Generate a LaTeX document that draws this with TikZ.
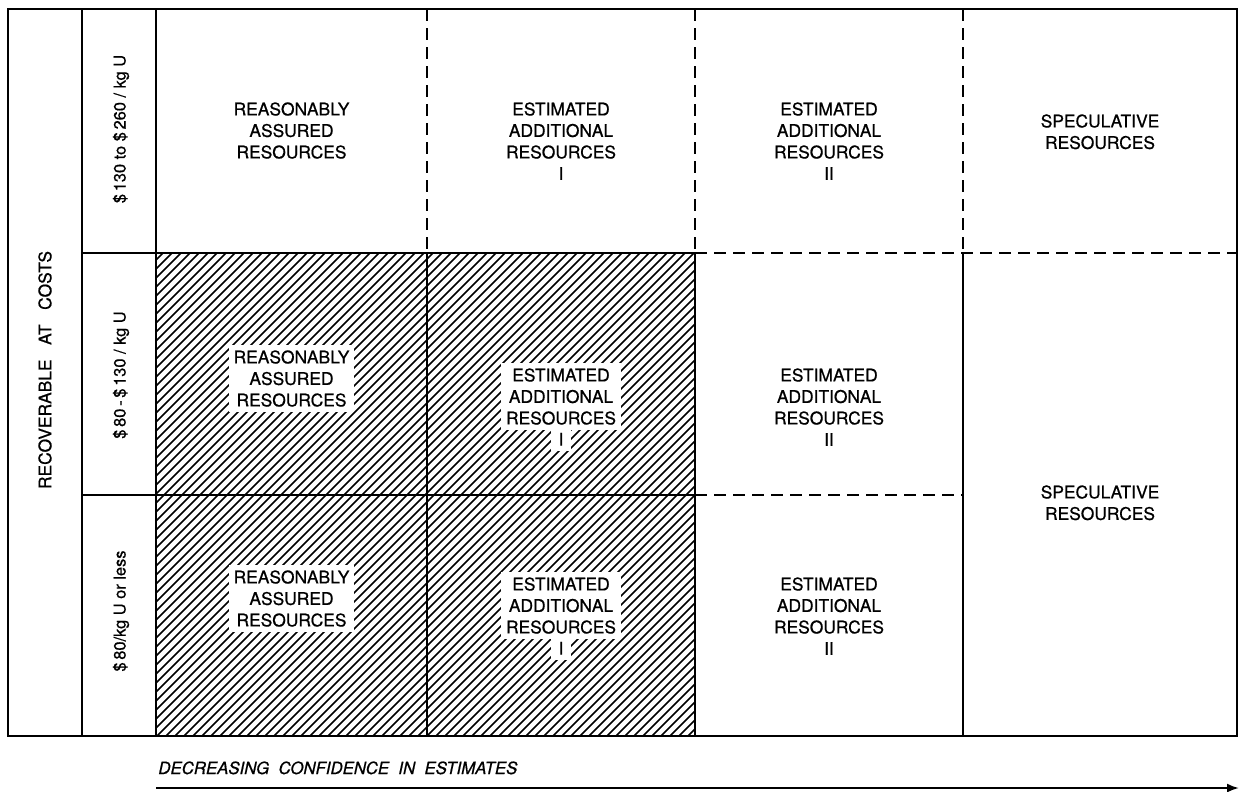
\documentclass[tikz,border=0pt]{standalone}
\usepackage{fontspec}
\setmainfont{TeX Gyre Heros}[FakeBold=0.7]
\usetikzlibrary{arrows.meta}
\begin{document}
\begin{tikzpicture}[x=0.5bp,y=-0.5bp,
  frame/.style={line width=1bp},
  dashline/.style={line width=0.9bp, dash pattern=on 6bp off 3.5bp},
  hatchline/.style={line width=0.8bp},
  lbl/.style={align=center, inner sep=0pt, anchor=north,
    font=\fontsize{8.7bp}{10.75bp}\selectfont},
  onhatch/.style={lbl, fill=white, inner sep=2.5bp},
  sidelbl/.style={rotate=90, inner sep=0pt,
    font=\fontsize{8.2bp}{10bp}\selectfont},
  axislbl/.style={inner sep=0pt, anchor=base west,
    font=\fontsize{8.4bp}{10bp}\selectfont\itshape}]
\useasboundingbox (0,0) rectangle (1244,791);
\fill[white] (0,0) rectangle (1244,791);

% hatched block: first two classes at the two lower cost levels
\begin{scope}
  \clip (156,253) rectangle (695,736);
  \foreach \s in {-500,-491,...,700}
    \draw[hatchline] (\s,736) -- ++(483,-483);
\end{scope}

% outer frame and solid rules
\draw[frame] (8,9) rectangle (1237,736);
\draw[frame] (82,9) -- (82,736);
\draw[frame] (156,9) -- (156,736);
\draw[frame] (82,253) -- (695,253);
\draw[frame] (82,495) -- (695,495);
\draw[frame] (427,253) -- (427,736);
\draw[frame] (695,253) -- (695,736);
\draw[frame] (963,253) -- (963,736);

% dashed boundaries
\draw[dashline] (427,9) -- (427,253);
\draw[dashline] (695,9) -- (695,253);
\draw[dashline] (963,9) -- (963,253);
\draw[dashline] (695,253) -- (1237,253);
\draw[dashline] (695,495) -- (963,495);

% left-hand labels
\node[sidelbl, font=\fontsize{8.7bp}{10bp}\selectfont] (recov) at (45,370)
  {RECOVERABLE\ \ \ AT\ \ \ COSTS};
\node[sidelbl] (cost3) at (121,129) {\$\,130 to \$\,260 / kg U};
\node[sidelbl] (cost2) at (121,375) {\$\,80\,-\,\$\,130 / kg U};
\node[sidelbl] (cost1) at (121,611) {\$\,80/kg U or less};

% top row
\node[lbl] (rar3) at (291.5,102) {REASONABLY\\ASSURED\\RESOURCES};
\node[lbl] (eaa3) at (561,102) {ESTIMATED\\ADDITIONAL\\RESOURCES\\I};
\node[lbl] (eab3) at (829,102) {ESTIMATED\\ADDITIONAL\\RESOURCES\\II};
\node[lbl] (spc3) at (1100,114) {SPECULATIVE\\RESOURCES};

% middle row
\node[onhatch] (rar2) at (291.5,345) {REASONABLY\\ASSURED\\RESOURCES};
\node[onhatch] (eaa2) at (561,363) {ESTIMATED\\ADDITIONAL\\RESOURCES};
\node[onhatch, minimum width=10bp] (eaa2i) at (561,427.5) {I};
\node[lbl] (eab2) at (829,368) {ESTIMATED\\ADDITIONAL\\RESOURCES\\II};

% bottom row
\node[onhatch] (rar1) at (291.5,565) {REASONABLY\\ASSURED\\RESOURCES};
\node[onhatch] (eaa1) at (561,572) {ESTIMATED\\ADDITIONAL\\RESOURCES};
\node[onhatch, minimum width=10bp] (eaa1i) at (561,636.5) {I};
\node[lbl] (eab1) at (829,577) {ESTIMATED\\ADDITIONAL\\RESOURCES\\II};

% speculative resources below the top cost level
\node[lbl] (spc12) at (1100,485) {SPECULATIVE\\RESOURCES};

% confidence axis
\node[axislbl] (axis) at (158,774)
  {DECREASING\ \ CONFIDENCE\ \ IN\ \ ESTIMATES};
\coordinate (axstart) at (156,788);
\coordinate (axend) at (1239,788);
\draw[line width=1bp, -{Latex[length=6bp,width=4.5bp]}] (axstart) -- (axend);
\end{tikzpicture}
\end{document}
